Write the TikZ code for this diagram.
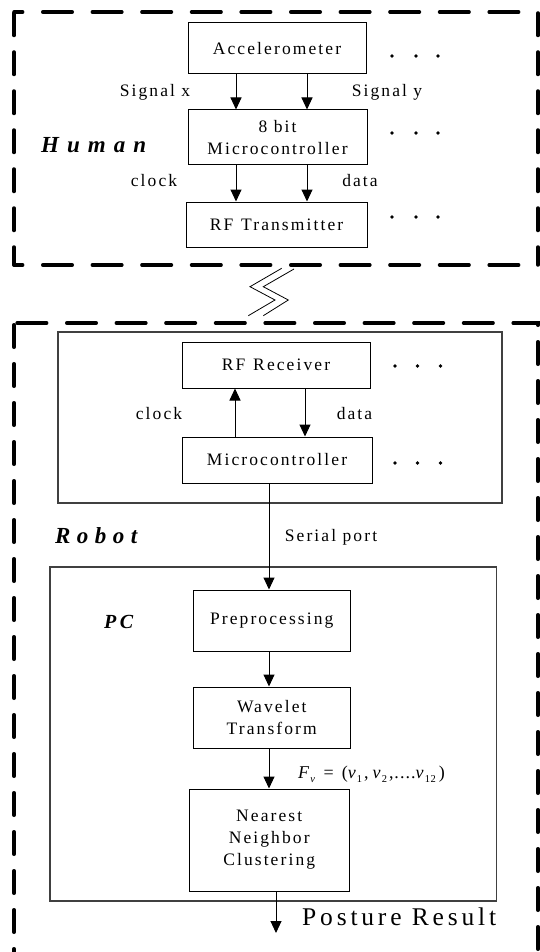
\documentclass[tikz,border=0pt]{standalone}
\usepackage{fontspec}
\setmainfont{Liberation Serif}[LetterSpace=12]
\usetikzlibrary{arrows.meta}
\newcommand\lowsub[1]{\raisebox{-4.5pt}{\fontsize{10.5}{11}\selectfont #1}}
\begin{document}
\begin{tikzpicture}[x=1pt,y=-1pt,
  box/.style={draw, line width=1pt, inner sep=0pt, align=center, font=\fontsize{17.5}{21.5}\selectfont},
  lbl/.style={font=\fontsize{17.5}{21.5}\selectfont, inner sep=0pt, anchor=base},
  grp/.style={font=\fontsize{23}{26}\selectfont\bfseries\itshape\addfontfeature{LetterSpace=35}, inner sep=0pt, anchor=base west},
  arr/.style={line width=1pt, -{Triangle[width=11pt,length=12pt]}},
  hdash/.style={line width=3.5pt, line cap=round, dash pattern=on 29.5pt off 20.1pt},
  vdash/.style={line width=3.5pt, line cap=round, dash pattern=on 22.5pt off 16.5pt},
  frame/.style={draw, line width=1.2pt, draw=black!75, inner sep=0pt},
  zig/.style={line width=0.8pt}]
\useasboundingbox (0,0) rectangle (539,952);

% ---------- Human frame ----------
\draw[hdash, dash phase=20.85pt] (14,12) -- (538,12);
\draw[hdash, dash phase=20.85pt] (14,265) -- (538,265);
\draw[vdash, dash phase=38pt] (14,12) -- (14,265);
\draw[vdash, dash phase=38pt] (538,12) -- (538,265);

% ---------- Robot frame ----------
\draw[hdash, dash phase=46.45pt] (14,323) -- (540,323);
\draw[vdash, dash phase=37.25pt] (14,323) -- (14,970);
\draw[vdash, dash phase=20.25pt] (538,323) -- (538,970);

% ---------- wireless symbol ----------
\draw[zig] (281.7,268.3) -- (250,286.7) -- (275,300) -- (248.3,315.7);
\draw[zig] (294,269) -- (263.3,286.7) -- (288.3,300) -- (263.3,315.7);

% ---------- Human blocks ----------
\node[box, minimum width=178pt, minimum height=51pt] (acc) at (277,48.5) {Accelerometer};
\node[box, minimum width=179pt, minimum height=55pt] (mcuh) at (277.5,137.5) {8 bit\\Microcontroller};
\node[box, minimum width=181pt, minimum height=45pt] (rftx) at (276.5,224.5) {RF\hspace{0.45em}Transmitter};

\coordinate (hx1) at (236,0);
\coordinate (hx2) at (307,0);
\draw[arr] (acc.south -| hx1) -- (mcuh.north -| hx1);
\draw[arr] (acc.south -| hx2) -- (mcuh.north -| hx2);
\draw[arr] (mcuh.south -| hx1) -- (rftx.north -| hx1);
\draw[arr] (mcuh.south -| hx2) -- (rftx.north -| hx2);

\node[lbl] (sigx) at (155,97) {Signal x};
\node[lbl] (sigy) at (387,97) {Signal y};
\node[lbl] (clkh) at (154,186) {clock};
\node[lbl] (dath) at (360,186) {data};
\node[grp] (human) at (41,153) {Human};

\foreach \yy in {56,133,217}{
  \foreach \xx in {392,416,438}{\fill (\xx,\yy) circle (1.9pt);}
}

% ---------- Robot blocks ----------
\node[frame, minimum width=444pt, minimum height=171pt] (rxbox) at (280,417.5) {};
\node[box, minimum width=188pt, minimum height=46pt] (rfrx) at (276,365) {RF\hspace{0.45em}Receiver};
\node[box, minimum width=190pt, minimum height=46pt] (mcur) at (277,460) {Microcontroller};
\coordinate (rx1) at (235,0);
\coordinate (rx2) at (305,0);
\draw[arr] (mcur.north -| rx1) -- (rfrx.south -| rx1);
\draw[arr] (rfrx.south -| rx2) -- (mcur.north -| rx2);
\node[lbl] (clkr) at (159,419) {clock};
\node[lbl] (datr) at (354.5,419) {data};
\foreach \yy in {366,463}{
  \foreach \xx in {395,417.5,440.5}{\fill (\xx,\yy) circle (1.9pt);}
}

\node[lbl] (serial) at (331,541) {Serial port};
\node[grp, font=\fontsize{23}{26}\selectfont\bfseries\itshape\addfontfeature{LetterSpace=28}] (robot) at (55,543) {Robot};

% ---------- PC ----------
\node[frame, minimum width=446.5pt, minimum height=334pt] (pcbox) at (273.25,734) {};
\node[font=\fontsize{20}{24}\selectfont\bfseries\itshape\addfontfeature{LetterSpace=17}, inner sep=0pt, anchor=base west] (pc) at (104,628) {PC};
\node[box, minimum width=157.5pt, minimum height=61pt] (pre) at (271.75,620.5) {Preprocessing};
\node[box, minimum width=157.5pt, minimum height=61pt] (wav) at (271.75,717.5) {Wavelet\\Transform};
\node[box, minimum width=160.4pt, minimum height=102pt, font=\fontsize{17.5}{22}\selectfont] (nn) at (269.2,840) {Nearest\\Neighbor\\Clustering};

\coordinate (sx) at (269,0);
\coordinate (ox) at (276,0);
\coordinate (outend) at (276,933);
\draw[arr] (mcur.south -| sx) -- (pre.north -| sx);
\draw[arr] (pre.south -| sx) -- (wav.north -| sx);
\draw[arr] (wav.south -| sx) -- (nn.north -| sx);
\draw[arr] (nn.south -| ox) -- (outend);

\node[font=\fontsize{18}{22}\selectfont\addfontfeature{LetterSpace=6}, inner sep=0pt, anchor=base west] (fv) at (298,778)
  {\textit{F}\lowsub{\textit{v}}\hspace{8pt}=\hspace{8pt}(\textit{v}\lowsub{1}\hspace{2pt},\hspace{4pt}\textit{v}\lowsub{2}\hspace{2pt},\hspace{1pt}....\textit{v}\lowsub{12}\hspace{3pt})};
\node[font=\fontsize{25.5}{30}\selectfont\addfontfeature{LetterSpace=15}, inner sep=0pt, anchor=base west] (posture) at (302,925) {Posture Result};

\end{tikzpicture}
\end{document}
